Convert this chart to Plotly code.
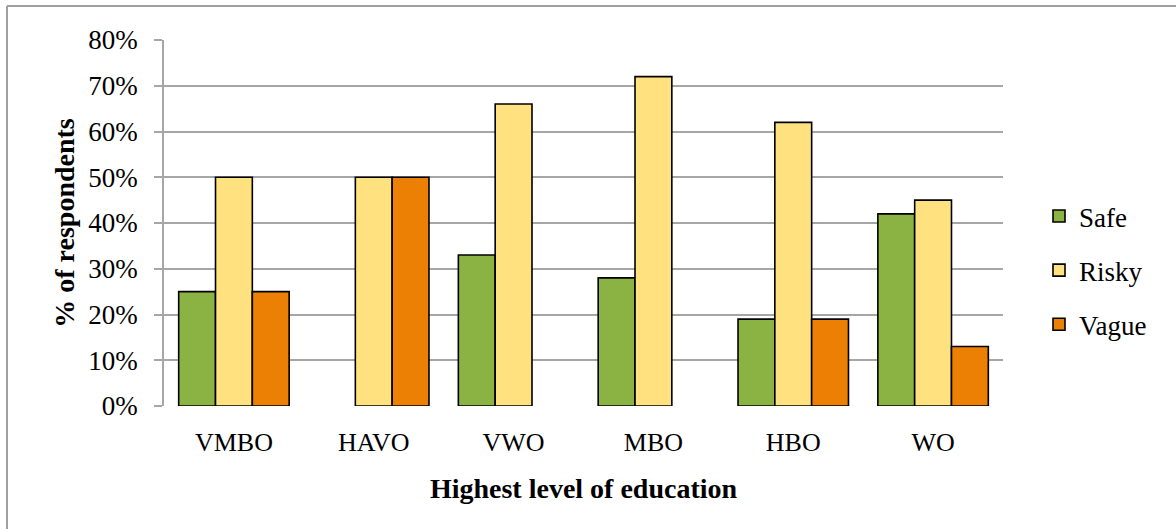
import plotly.graph_objects as go

# Survey results by highest level of education
categories = ["VMBO", "HAVO", "VWO", "MBO", "HBO", "WO"]
safe = [25, 0, 33, 28, 19, 42]
risky = [50, 50, 66, 72, 62, 45]
vague = [25, 50, 0, 0, 19, 13]
y_ticks = [0, 10, 20, 30, 40, 50, 60, 70, 80]
y_tick_labels = [f"{v}%" for v in y_ticks]

series = [
    ("Safe", safe, "#8bb343"),
    ("Risky", risky, "#ffe17f"),
    ("Vague", vague, "#eb8004"),
]

FONT = "Liberation Serif"
W, H = 1176, 529
L, R, T, B = 164, 173, 40, 123
pw, ph = W - L - R, H - T - B

fig = go.Figure()
for name, vals, col in series:
    # no outline on empty (zero-height) bars
    outline = [1.6 if v > 0 else 0 for v in vals]
    fig.add_trace(go.Bar(
        name=name, x=categories, y=vals,
        marker=dict(color=col, line=dict(color="#000000", width=outline)),
        legendgroup=name,
    ))

# outer chart frame (top and left edges visible)
px_x = lambda p: (p - L) / pw
px_y = lambda p: (H - B - p) / ph
frame = dict(type="line", xref="paper", yref="paper",
             line=dict(color="#a0a0a0", width=2))
fig.add_shape(**frame, x0=px_x(7), x1=px_x(1180), y0=px_y(6), y1=px_y(6))
fig.add_shape(**frame, x0=px_x(7), x1=px_x(7), y0=px_y(6), y1=px_y(535))

fig.update_layout(
    width=W, height=H,
    margin=dict(l=L, r=R, t=T, b=B, pad=0),
    paper_bgcolor="white", plot_bgcolor="white",
    barmode="group", bargap=0.21, bargroupgap=0,
    font=dict(family=FONT, size=27, color="#000000"),
    showlegend=True,
    legend=dict(
        x=px_x(1039), y=px_y(192), xanchor="left", yanchor="top",
        font=dict(family=FONT, size=27), tracegroupgap=16,
        bgcolor="rgba(0,0,0,0)", itemwidth=30,
    ),
    xaxis=dict(
        showgrid=False, showline=False, ticks="",
        tickfont=dict(family=FONT, size=26),
        ticklabelstandoff=18,
        title=dict(text="<b>Highest level of education</b>",
                   font=dict(family=FONT, size=28), standoff=22),
    ),
    yaxis=dict(
        range=[0, 80], tickvals=y_ticks, ticktext=y_tick_labels,
        showgrid=True, gridcolor="#a6a6a6", gridwidth=1.5,
        showline=True, linecolor="#a6a6a6", linewidth=1.5,
        ticks="outside", ticklen=8, tickcolor="#a6a6a6", tickwidth=1.5,
        tickfont=dict(family=FONT, size=27),
        ticklabelstandoff=11,
        zeroline=False,
        title=dict(text="<b>% of respondents</b>",
                   font=dict(family=FONT, size=28), standoff=6),
    ),
)

fig.write_html("out.html")
